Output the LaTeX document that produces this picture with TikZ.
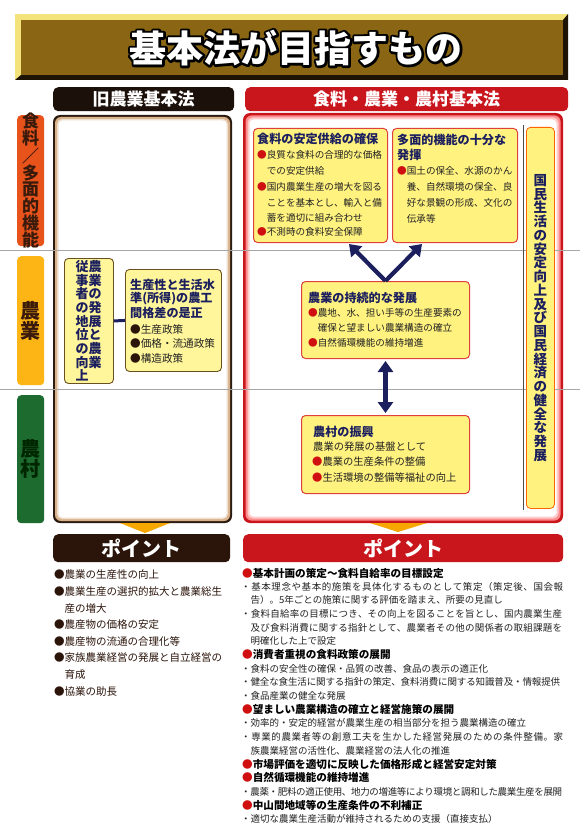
\documentclass[tikz,border=0pt]{standalone}
\usepackage{fontspec}
\setmainfont{Noto Sans CJK JP}
\usetikzlibrary{arrows.meta,calc}
\definecolor{navy}{HTML}{1B1F5E}
\definecolor{txtdark}{HTML}{222222}
\definecolor{bred}{HTML}{D01010}
\definecolor{titlebrown}{HTML}{8A6614}
\definecolor{titleyellow}{HTML}{F3E37A}
\definecolor{titleshadow}{HTML}{1E1405}
\definecolor{hdrblack}{HTML}{1C100A}
\definecolor{hdrred}{HTML}{C9161D}
\definecolor{labOrange}{HTML}{E8531C}
\definecolor{labYellow}{HTML}{FDB515}
\definecolor{labGreen}{HTML}{1E6B30}
\definecolor{labtext}{HTML}{3A1A0A}
\definecolor{boxyellow}{HTML}{FFF27F}
\definecolor{boxborder}{HTML}{E0403A}
\definecolor{lboxyellow}{HTML}{FFF59A}
\definecolor{brownborder}{HTML}{6B5020}
\definecolor{trioran}{HTML}{F7A800}
\definecolor{ptdark}{HTML}{2B140A}
\newcommand{\setfs}[1]{\fontsize{#1}{#1}\selectfont}
\newcommand{\rbul}{\textcolor{bred}{●}}
\newcommand{\dbul}{\textcolor{ptdark}{●}}
\makeatletter
\newcommand{\jline}[2]{\hbox to #1{\@tfor\jc:=#2\do{\jc\hskip 0pt plus 1fil minus 1fil}\unskip}}
\makeatother
\tikzset{
  ttl/.style={font=\bfseries\setfs{12.1}, text=navy, anchor=west, inner sep=0pt},
  itm/.style={font=\setfs{9.6}, text=txtdark, anchor=west, inner sep=0pt},
  ybox/.style={draw=boxborder, fill=boxyellow, rounded corners=4pt, line width=1pt, anchor=north west, inner sep=0pt},
  lbox/.style={draw=brownborder, fill=lboxyellow, rounded corners=4pt, line width=0.9pt, anchor=north west, inner sep=0pt},
  labbox/.style={rounded corners=4pt, anchor=north west, inner sep=0pt, minimum width=27pt},
  hdr/.style={rounded corners=5pt, anchor=north west, inner sep=0pt, text=white, font=\bfseries\setfs{17}},
  bigarrow/.style={draw=navy, line width=4.2pt, -{Triangle[width=15pt,length=11pt]}},
  dblarrow/.style={draw=navy, line width=4.2pt, {Triangle[width=15pt,length=11pt]}-{Triangle[width=15pt,length=11pt]}},
  grayline/.style={draw=black!35, line width=0.8pt},
  rhead/.style={font=\bfseries\setfs{10.6}, text=black, anchor=west, inner sep=0pt},
  rbody/.style={font=\setfs{9.5}, text=txtdark, anchor=west, inner sep=0pt},
  lpt/.style={font=\setfs{10.5}, text=ptdark, anchor=west, inner sep=0pt},
  titletext/.style={font=\bfseries\setfs{37}, inner sep=0pt},
}
\begin{document}
\begin{tikzpicture}[x=1pt,y=-1pt]
\useasboundingbox (0,0) rectangle (580,834);
\fill[white] (0,0) rectangle (580,834);

% ---------- title banner
\fill[titleyellow] (15,14) rectangle (568,80);
\fill[titleshadow] (15,80) -- (568,80) -- (568,14) -- (563,20) -- (563,75) -- (21,75) -- cycle;
\fill[titlebrown] (21,20) rectangle (563,75);
\node[titletext, text=white] (titleo) at (296,48) {\special{pdf:code 1 Tr 4.6 w 1 j 0 0 0 RG}基本法が目指すもの\special{pdf:code 0 Tr}};
\node[titletext, text=white] (title) at (296,48) {基本法が目指すもの};

% ---------- headers
\node[hdr, fill=hdrblack, minimum width=181pt, minimum height=24pt] (hOld) at (53,87) {旧農業基本法};
\node[hdr, fill=hdrred, minimum width=323pt, minimum height=24pt] (hNew) at (245,87) {食料・農業・農村基本法};

% ---------- left labels
\node[labbox, fill=labOrange, minimum height=131pt] (labF) at (17,115) {};
\node[font=\bfseries\fontsize{17}{15.9}\selectfont, text=labtext, align=center, inner sep=0pt] (labFt) at (labF) {食\\料\\／\\多\\面\\的\\機\\能};
\node[labbox, fill=labYellow, minimum height=129pt] (labA) at (17,256) {};
\node[font=\bfseries\fontsize{20}{20}\selectfont, text=labtext, align=center, inner sep=0pt] (labAt) at (labA) {農\\業};
\node[labbox, fill=labGreen, minimum height=128pt] (labV) at (17,395) {};
\node[font=\bfseries\fontsize{20}{20}\selectfont, text=black!85!green, align=center, inner sep=0pt] (labVt) at (labV) {農\\村};

% ---------- frames
\fill[hdrblack!90!brown, rounded corners=7pt] (53,115) rectangle (232,523);
\fill[brown!60!white, rounded corners=6pt] (55,117) rectangle (230,521);
\fill[brown!25!white, rounded corners=5pt] (57,119) rectangle (228,519);
\fill[white, rounded corners=4pt] (58.5,120.5) rectangle (226.5,517.5);

\fill[hdrred, rounded corners=7pt] (243,113) rectangle (563,523);
\fill[red!45!white, rounded corners=6pt] (245.5,115.5) rectangle (560.5,520.5);
\fill[red!20!white, rounded corners=5pt] (247.5,117.5) rectangle (558.5,518.5);
\fill[white, rounded corners=4pt] (249.5,119.5) rectangle (556.5,516.5);

% triangles
\fill[trioran] (120,523) -- (170,523) -- (145,533) -- cycle;
\fill[trioran] (370,523) -- (427,523) -- (398,532) -- cycle;

% gray lines
\draw[grayline] (0,250) -- (580,250);
\draw[grayline] (0,389) -- (580,389);

% ---------- left frame content
\node[lbox, minimum width=49pt, minimum height=125pt] (L1) at (64,258) {};
\node[font=\bfseries\fontsize{13}{13.7}\selectfont, text=navy, align=center, inner sep=0pt, anchor=north] (L1a) at (95,260) {農\\業\\の\\発\\展\\と\\農\\業};
\node[font=\bfseries\fontsize{13}{13.7}\selectfont, text=navy, align=center, inner sep=0pt, anchor=north] (L1b) at (82,260) {従\\事\\者\\の\\地\\位\\の\\向\\上};
\node[lbox, minimum width=96pt, minimum height=102pt] (L2) at (125,269) {};
\draw[navy, line width=3pt] (L1.east) -- (L2.west);
\node[ttl] (L2t1) at (130,285) {生産性と生活水};
\node[ttl] (L2t2) at (130,299) {準(所得)の農工};
\node[ttl] (L2t3) at (130,313) {間格差の是正};
\node[itm, font=\setfs{10.6}] (L2i1) at (130,329) {\dbul 生産政策};
\node[itm, font=\setfs{10.6}] (L2i2) at (130,343) {\dbul 価格・流通政策};
\node[itm, font=\setfs{10.6}] (L2i3) at (130,358) {\dbul 構造政策};

% ---------- right frame content
\draw[black!70, line width=0.8pt] (523,125) -- (523,510);
\node[ybox, minimum width=134pt, minimum height=114pt] (A) at (253,128) {};
\node[ttl] (At) at (257,139) {食料の安定供給の確保};
\node[itm] (Ai1) at (257,155) {\rbul 良質な食料の合理的な価格};
\node[itm] (Ai2) at (257,171) {\phantom{●}での安定供給};
\node[itm] (Ai3) at (257,187) {\rbul 国内農業生産の増大を図る};
\node[itm] (Ai4) at (257,203) {\phantom{●}ことを基本とし、輸入と備};
\node[itm] (Ai5) at (257,218) {\phantom{●}蓄を適切に組み合わせ};
\node[itm] (Ai6) at (257,232) {\rbul 不測時の食料安全保障};

\node[ybox, minimum width=125pt, minimum height=114pt] (B) at (392,128) {};
\node[ttl] (Bt1) at (397,140) {多面的機能の十分な};
\node[ttl] (Bt2) at (397,155) {発揮};
\node[itm] (Bi1) at (397,171) {\rbul 国土の保全、水源のかん};
\node[itm] (Bi2) at (397,187) {\phantom{●}養、自然環境の保全、良};
\node[itm] (Bi3) at (397,203) {\phantom{●}好な景観の形成、文化の};
\node[itm] (Bi4) at (397,219) {\phantom{●}伝承等};

\node[ybox, draw=orange!80!red, line width=0.8pt, minimum width=28pt, minimum height=381pt] (C) at (526,127) {};
\node[font=\bfseries\fontsize{13.5}{13.75}\selectfont, text=navy, align=center, inner sep=0pt] (Ct) at (C) {国\\民\\生\\活\\の\\安\\定\\向\\上\\及\\び\\国\\民\\経\\済\\の\\健\\全\\な\\発\\展};

\node[ybox, minimum width=168pt, minimum height=77pt] (D) at (301,281) {};
\node[ttl] (Dt) at (308,298) {農業の持続的な発展};
\node[itm] (Di1) at (308,313) {\rbul 農地、水、担い手等の生産要素の};
\node[itm] (Di2) at (308,328) {\phantom{●}確保と望ましい農業構造の確立};
\node[itm] (Di3) at (308,343) {\rbul 自然循環機能の維持増進};

\node[ybox, minimum width=168pt, minimum height=78pt] (E) at (301,415) {};
\node[ttl] (Et) at (313,432) {農村の振興};
\node[itm, font=\setfs{10.3}] (Ei1) at (313,447) {農業の発展の基盤として};
\node[itm, font=\setfs{10.3}] (Ei2) at (312,462) {\rbul 農業の生産条件の整備};
\node[itm, font=\setfs{10.3}] (Ei3) at (312,478) {\rbul 生活環境の整備等福祉の向上};

\draw[bigarrow] (D.north) -- ($(A.south east)+(-39,1)$);
\draw[bigarrow] (D.north) -- ($(B.south west)+(30,1)$);
\draw[dblarrow, shorten <=2pt, shorten >=2pt] (D.south) -- (E.north);

% ---------- points headers
\node[hdr, fill=ptdark, minimum width=177pt, minimum height=28pt, font=\bfseries\setfs{20}] (pOld) at (53,534) {ポイント};
\node[hdr, fill=hdrred, minimum width=320pt, minimum height=28pt, font=\bfseries\setfs{20}] (pNew) at (243,534) {ポイント};

% ---------- left points
\node[lpt] (lp1) at (54,575) {\dbul 農業の生産性の向上};
\node[lpt] (lp2) at (54,591.6) {\dbul 農業生産の選択的拡大と農業総生};
\node[lpt] (lp3) at (54,608.2) {\phantom{●}産の増大};
\node[lpt] (lp4) at (54,624.8) {\dbul 農産物の価格の安定};
\node[lpt] (lp5) at (54,641.4) {\dbul 農産物の流通の合理化等};
\node[lpt] (lp6) at (54,658) {\dbul 家族農業経営の発展と自立経営の};
\node[lpt] (lp7) at (54,674.6) {\phantom{●}育成};
\node[lpt] (lp8) at (54,691.2) {\dbul 協業の助長};

% ---------- right points
\node[rhead] (r1) at (242,573) {\rbul 基本計画の策定～食料自給率の目標設定};
\node[rbody] (r2) at (241,586.6) {\jline{322pt}{・基本理念や基本的施策を具体化するものとして策定（策定後、国会報}};
\node[rbody] (r3) at (241,600.3) {\phantom{・}告）。5年ごとの施策に関する評価を踏まえ、所要の見直し};
\node[rbody] (r4) at (241,613.9) {\jline{321pt}{・食料自給率の目標につき、その向上を図ることを旨とし、国内農業生産}};
\node[rbody] (r5) at (250.5,627.6) {\jline{311.5pt}{及び食料消費に関する指針として、農業者その他の関係者の取組課題を}};
\node[rbody] (r6) at (241,641.2) {\phantom{・}明確化した上で設定};
\node[rhead] (r7) at (242,654.9) {\rbul 消費者重視の食料政策の展開};
\node[rbody] (r8) at (241,668.5) {・食料の安全性の確保・品質の改善、食品の表示の適正化};
\node[rbody] (r9) at (241,682.2) {\jline{319pt}{・健全な食生活に関する指針の策定、食料消費に関する知識普及・情報提供}};
\node[rbody] (r10) at (241,695.8) {・食品産業の健全な発展};
\node[rhead] (r11) at (242,709.5) {\rbul 望ましい農業構造の確立と経営施策の展開};
\node[rbody] (r12) at (241,723.1) {・効率的・安定的経営が農業生産の相当部分を担う農業構造の確立};
\node[rbody] (r13) at (241,736.8) {\jline{322pt}{・専業的農業者等の創意工夫を生かした経営発展のための条件整備。家}};
\node[rbody] (r14) at (241,750.4) {\phantom{・}族農業経営の活性化、農業経営の法人化の推進};
\node[rhead] (r15) at (242,764.1) {\rbul 市場評価を適切に反映した価格形成と経営安定対策};
\node[rhead] (r16) at (242,777.7) {\rbul 自然循環機能の維持増進};
\node[rbody] (r17) at (241,791.4) {\jline{321pt}{・農薬・肥料の適正使用、地力の増進等により環境と調和した農業生産を展開}};
\node[rhead] (r18) at (242,805) {\rbul 中山間地域等の生産条件の不利補正};
\node[rbody] (r19) at (241,818.7) {・適切な農業生産活動が維持されるための支援（直接支払）};
\end{tikzpicture}
\end{document}
